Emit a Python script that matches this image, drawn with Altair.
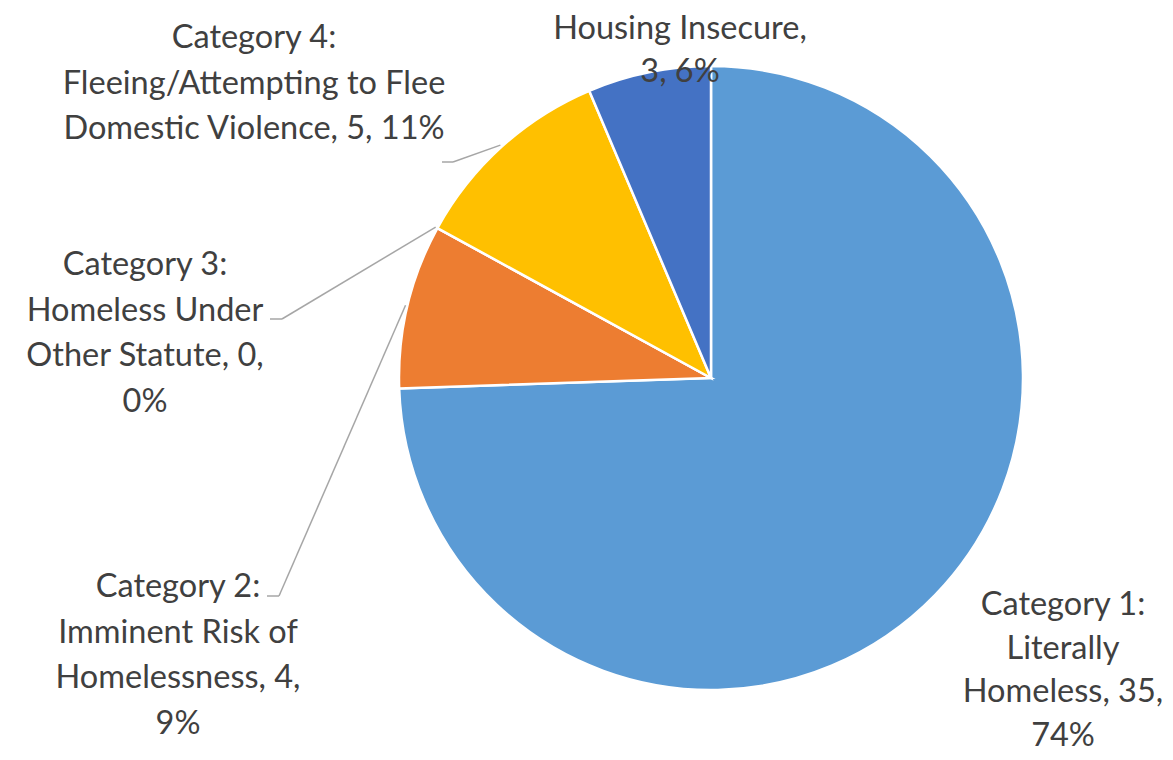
import numpy as np
import pandas as pd
import altair as alt

# ---- data ----
categories = [
    "Category 1: Literally Homeless",
    "Category 2: Imminent Risk of Homelessness",
    "Category 3: Homeless Under Other Statute",
    "Category 4: Fleeing/Attempting to Flee Domestic Violence",
    "Housing Insecure",
]
counts = [35, 4, 0, 5, 3]
colors = ["#5B9BD5", "#ED7D31", "#A5A5A5", "#FFC000", "#4472C4"]

# wrapped label text (name part), value and percent appended below
label_name_lines = [
    ["Category 1:", "Literally", "Homeless, {v},", "{p}%"],
    ["Category 2:", "Imminent Risk of", "Homelessness, {v},", "{p}%"],
    ["Category 3:", "Homeless Under", "Other Statute, {v},", "{p}%"],
    ["Category 4:", "Fleeing/Attempting to Flee", "Domestic Violence, {v}, {p}%"],
    ["Housing Insecure,", "{v}, {p}%"],
]

# ---- layout (pixels, chart coordinates; label y = first line centre) ----
CX, CY, R = 703, 370, 312
label_pos = [(1055, 597), (170, 579), (137, 257), (246, 30), (672, 21)]
label_line_h = [43.5, 45.5, 45.5, 45.5, 43]
# leader line elbow and end points (None = no leader)
leader_elbow = [None, (271, 588), (274, 311), (445, 154), None]
leader_end = [None, (259, 588), (262, 311), (434, 154), None]

total = sum(counts)
pcts = [int(round(c / total * 100)) for c in counts]

pie_df = pd.DataFrame({"category": categories, "count": counts, "idx": range(len(categories))})

lab_rows = []
for i, lines in enumerate(label_name_lines):
    txt = [ln.format(v=counts[i], p=pcts[i]) for ln in lines]
    lab_rows.append({"x": label_pos[i][0], "y": label_pos[i][1], "label": txt, "grp": i})
lab_df = pd.DataFrame(lab_rows)

# leader start: outer edge at slice mid angle (derived from data)
cum = np.cumsum([0] + counts)
seg_rows = []
for i in range(len(categories)):
    if leader_elbow[i] is None:
        continue
    mid = (cum[i] + cum[i + 1]) / 2 / total * 2 * np.pi
    sx = CX + (R + 2) * np.sin(mid)
    sy = CY - (R + 2) * np.cos(mid)
    ex, ey = leader_elbow[i]
    fx, fy = leader_end[i]
    seg_rows.append({"x": sx, "y": sy, "x2": ex, "y2": ey})
    seg_rows.append({"x": ex, "y": ey, "x2": fx, "y2": fy})
seg_df = pd.DataFrame(seg_rows)

pie = alt.Chart(pie_df).mark_arc(outerRadius=R, stroke="white", strokeWidth=2.5).encode(
    x=alt.value(CX),
    y=alt.value(CY),
    theta=alt.Theta("count:Q", stack=True),
    color=alt.Color("category:N", scale=alt.Scale(domain=categories, range=colors), legend=None),
    order=alt.Order("idx:Q"),
)

leaders = alt.Chart(seg_df).mark_rule(color="#A6A6A6", strokeWidth=1.5).encode(
    x=alt.X("x:Q", scale=None),
    y=alt.Y("y:Q", scale=None),
    x2="x2:Q",
    y2="y2:Q",
)

label_layers = []
for i in range(len(categories)):
    label_layers.append(
        alt.Chart(lab_df[lab_df["grp"] == i]).mark_text(
            font="Lato", fontSize=32.5, color="#404040", align="center",
            baseline="middle", lineHeight=label_line_h[i]
        ).encode(
            x=alt.X("x:Q", scale=None),
            y=alt.Y("y:Q", scale=None),
            text="label",
        )
    )

chart = alt.layer(pie, leaders, *label_layers).properties(
    width=1157, height=744, padding=0, autosize=alt.AutoSizeParams(type="none")
).configure_view(stroke=None)

chart.save("out.html", embed_options={"renderer": "svg", "actions": False})
